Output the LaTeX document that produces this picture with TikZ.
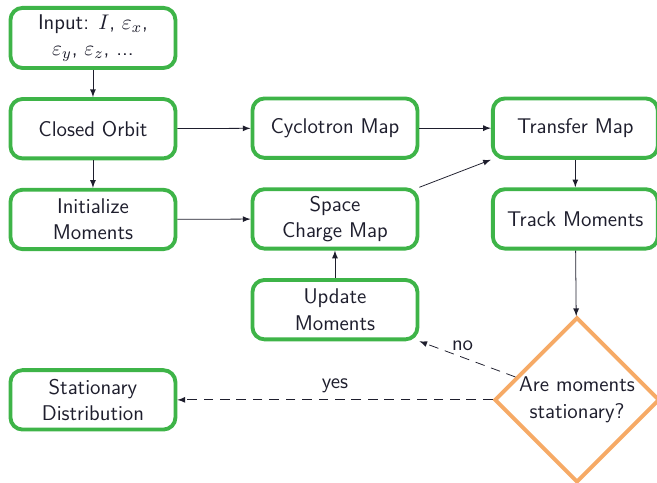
\documentclass[tikz,border=0pt]{standalone}
\usepackage{amsmath}
\usepackage{xcolor}
\usepackage{tikz}
\usetikzlibrary{shapes.geometric}
\definecolor{boxgreen}{RGB}{62,180,72}
\definecolor{decorange}{RGB}{246,170,102}
\definecolor{textdark}{RGB}{30,30,45}
\renewcommand{\familydefault}{\sfdefault}

\begin{document}
\begin{tikzpicture}[block/.style={draw=boxgreen,line width=2pt,rounded corners=0.22cm,
        minimum width=3cm,minimum height=1.08cm,align=center,fill=white,
        text=textdark,font=\fontsize{11}{13.6}\selectfont},
    decision/.style={diamond,draw=decorange,line width=2pt,minimum width=3cm,
        minimum height=3cm,align=center,inner sep=0pt,fill=white,
        text=textdark,font=\fontsize{11}{13.6}\selectfont},
    answer/.style={-latex,textdark,dash pattern=on 5pt off 3.5pt}]
		\useasboundingbox (0,0) rectangle (11.945,8.78);

		\node[block] (input) at (1.69, 8.09) {Input: $I$, $\varepsilon_x$,\\ $\varepsilon_y$, $\varepsilon_z$, ...};
		\node[block] (orbit) at (1.69, 6.44) {Closed Orbit};
		\node[block] (init) at (1.69, 4.79) {Initialize\\ Moments};
		\node[block] (stat) at (1.69, 1.51) {Stationary\\ Distribution};

		\node[block] (cyclo) at (6.09, 6.45) {Cyclotron Map};
		\node[block] (space) at (6.09, 4.80) {Space\\ Charge Map};
		\node[block] (update) at (6.09, 3.15) {Update\\ Moments};

		\node[block] (transfer) at (10.46, 6.45) {Transfer Map};
		\node[block] (track) at (10.46, 4.80) {Track Moments};
		\node[decision] (decide) at (10.49, 1.51) {Are moments\\ stationary?};

		% arrows
		\draw[-latex,textdark] (input) -- (orbit);
		\draw[-latex,textdark] (orbit) -- (init);
		\draw[-latex,textdark] (orbit) -- (cyclo);
		\draw[-latex,textdark] (init) -- (space);
		\draw[-latex,textdark] (cyclo) -- (transfer);
		\draw[-latex,textdark] (space.north east) -- (transfer.south west);
		\draw[-latex,textdark] (update) -- (space);
		\draw[-latex,textdark] (transfer) -- (track);
		\draw[-latex,textdark] (track) -- (decide);

		\draw[answer] (decide) -- node[above,pos=0.55,font=\fontsize{11}{13.6}\selectfont] {no} (update.south east);
		\draw[answer] (decide) -- node[above,font=\fontsize{11}{13.6}\selectfont] {yes} (stat);
    \end{tikzpicture}
\end{document}
